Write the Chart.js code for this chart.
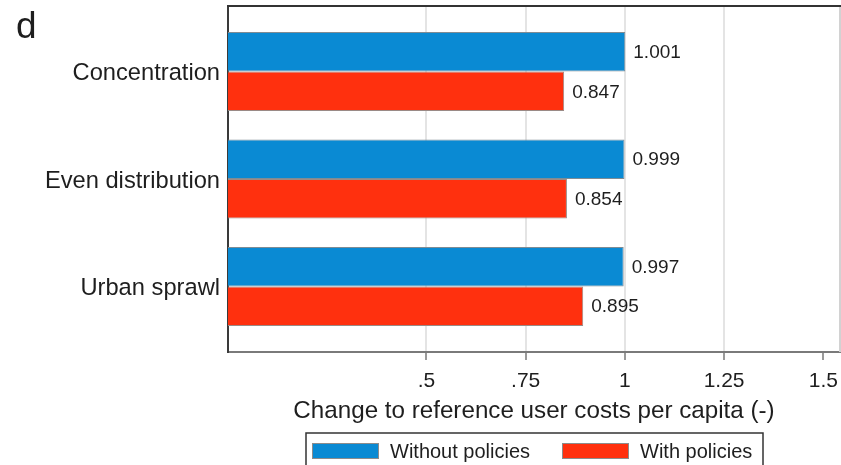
<!DOCTYPE html>
<html>
<head>
<meta charset="utf-8">
<script src="https://cdn.jsdelivr.net/npm/chart.js@4/dist/chart.umd.min.js"></script>
<style>
  html, body { margin: 0; padding: 0; background: #ffffff; }
  #wrap { width: 841px; height: 465px; position: relative; }
</style>
</head>
<body>
<div id="wrap"><canvas id="c" width="841" height="465"></canvas></div>
<script>
// Scenario categories and the two series (change relative to reference user costs)
const categories = ['Concentration', 'Even distribution', 'Urban sprawl'];
const withoutPolicies = [1.001, 0.999, 0.997];
const withPolicies = [0.847, 0.854, 0.895];
const seriesNames = ['Without policies', 'With policies'];
const xTickValues = [0.5, 0.75, 1, 1.25, 1.5];
const xTickLabels = ['.5', '.75', '1', '1.25', '1.5'];
const panelLetter = 'd';
const axisTitle = 'Change to reference user costs per capita (-)';

const FONT = "'Liberation Sans', Arial, Helvetica, sans-serif";
const BLUE = '#0a8ad3';
const RED = '#ff300e';
const TEXT = '#1e1e1e';

const toPoints = vals => vals.map((v, i) => ({ x: v, y: i }));

// Frame, value labels, panel letter and boxed legend
const extras = {
  id: 'extras',
  afterDraw(chart) {
    const { ctx, chartArea: a } = chart;
    ctx.save();

    // top and right edges of the plot frame
    ctx.lineWidth = 2;
    ctx.strokeStyle = '#d2d2d2';
    ctx.beginPath();
    ctx.moveTo(a.right, a.top);
    ctx.lineTo(a.right, a.bottom);
    ctx.stroke();
    ctx.strokeStyle = '#333333';
    ctx.beginPath();
    ctx.moveTo(a.left - 1, a.top);
    ctx.lineTo(a.right + 1, a.top);
    ctx.stroke();

    // value labels at the end of each bar
    ctx.font = '19px ' + FONT;
    ctx.fillStyle = TEXT;
    ctx.textAlign = 'left';
    ctx.textBaseline = 'middle';
    chart.data.datasets.forEach((ds, di) => {
      chart.getDatasetMeta(di).data.forEach((bar, i) => {
        ctx.fillText(ds.data[i].x.toFixed(3), bar.x + 8, bar.y + 1);
      });
    });

    // panel letter
    ctx.font = '37px ' + FONT;
    ctx.textBaseline = 'alphabetic';
    ctx.fillText(panelLetter, 16, 38);

    // legend box under the axis title
    const cx = (a.left + a.right) / 2;
    const boxL = cx - 228, boxR = cx + 229, boxT = 433;
    ctx.lineWidth = 1.5;
    ctx.strokeStyle = '#333333';
    ctx.strokeRect(boxL, boxT, boxR - boxL, 60);
    const items = [
      { x: boxL + 6, ds: chart.data.datasets[0] },
      { x: boxL + 256, ds: chart.data.datasets[1] }
    ];
    ctx.font = '20px ' + FONT;
    ctx.textBaseline = 'middle';
    items.forEach(it => {
      ctx.fillStyle = it.ds.backgroundColor;
      ctx.fillRect(it.x, 443, 67, 16);
      ctx.lineWidth = 1;
      ctx.strokeStyle = '#8c8c8c';
      ctx.strokeRect(it.x + 0.5, 443.5, 66, 15);
      ctx.fillStyle = TEXT;
      ctx.fillText(it.ds.label, it.x + 78, 452);
    });

    ctx.restore();
  }
};

new Chart(document.getElementById('c'), {
  type: 'bar',
  data: {
    datasets: [
      {
        label: seriesNames[0],
        data: toPoints(withoutPolicies),
        backgroundColor: BLUE,
        borderColor: '#7f8c94',
        borderWidth: 1
      },
      {
        label: seriesNames[1],
        data: toPoints(withPolicies),
        backgroundColor: RED,
        borderColor: '#9a8a86',
        borderWidth: 1
      }
    ]
  },
  options: {
    indexAxis: 'y',
    responsive: false,
    animation: false,
    devicePixelRatio: 1,
    layout: { padding: { top: 6, right: 1, left: 0, bottom: 0 } },
    datasets: { bar: { categoryPercentage: 0.735, barPercentage: 1.0 } },
    plugins: { legend: { display: false }, tooltip: { enabled: false } },
    scales: {
      x: {
        type: 'linear',
        min: 0,
        max: 1.542,
        offset: false,
        afterBuildTicks: s => { s.ticks = xTickValues.map(v => ({ value: v })); },
        afterFit: s => { s.height = 113; s.paddingLeft = 0; s.paddingRight = 0; },
        ticks: {
          callback: (v, i) => xTickLabels[i],
          font: { family: FONT, size: 21 },
          color: TEXT,
          padding: 9,
          maxRotation: 0,
          autoSkip: false
        },
        grid: {
          color: c => (c.tick && c.tick.value === 1.5) ? 'rgba(0,0,0,0)' : '#e4e4e4',
          lineWidth: 2,
          drawTicks: true,
          tickLength: 8,
          tickColor: '#9a9a9a',
          tickWidth: 2
        },
        border: { display: true, color: '#7a7a7a', width: 2 },
        title: {
          display: true,
          text: axisTitle,
          font: { family: FONT, size: 24.2 },
          color: TEXT,
          padding: { top: 0, bottom: 39 }
        }
      },
      y: {
        type: 'linear',
        reverse: true,
        offset: false,
        min: -0.61,
        max: 2.61,
        afterBuildTicks: s => { s.ticks = categories.map((_, i) => ({ value: i })); },
        afterFit: s => { s.width = 228; s.paddingTop = 0; s.paddingBottom = 0; },
        ticks: {
          callback: v => categories[v],
          font: { family: FONT, size: 23.7 },
          color: TEXT,
          padding: 8,
          labelOffset: 2,
          autoSkip: false
        },
        grid: { display: false, drawTicks: false },
        border: { display: true, color: '#3a3a3a', width: 2 }
      }
    }
  },
  plugins: [extras]
});
</script>
</body>
</html>
